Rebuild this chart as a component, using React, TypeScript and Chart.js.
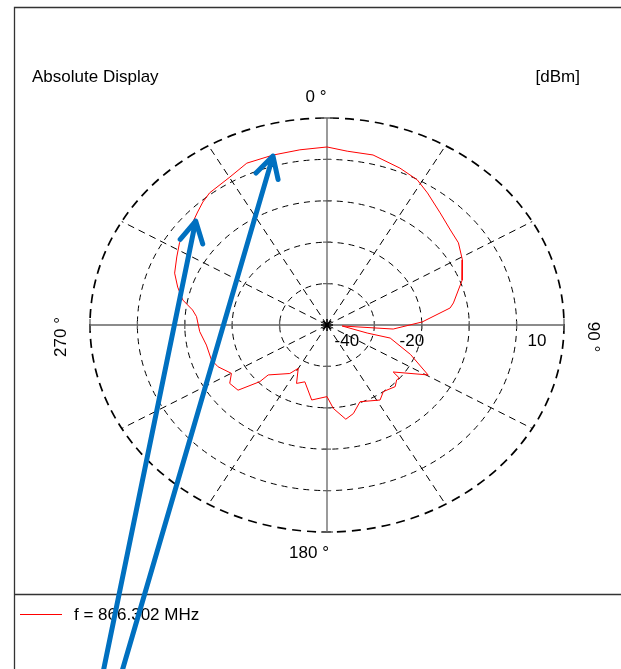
import React, { useEffect, useRef } from "react";
import { Chart, registerables } from "chart.js";

Chart.register(...registerables);

// ---- data (angle in degrees clockwise from 0°, level in dBm) ----
const angles = [
  0, 5.8, 13.3, 22.1, 28.5, 33.6, 41.4, 48.6, 54.4, 61.2, 69.2, 78.7, 81.0, 87.9,
  94.0, 94.3, 102.9, 103.3, 112.0, 119.5, 129.1, 130.0, 132.1, 136.0, 143.5, 148.3,
  159.4, 165.4, 170.1, 176.2, 180.0, 190.1, 198.8, 204.5, 210.1, 213.8, 225.8, 226.0,
  230.0, 235.5, 239.9, 246.3, 250.9, 259.2, 266.6, 274.2, 277.3, 281.2, 286.2, 291.3,
  297.4, 302.5, 304.9, 311.0, 315.0, 318.6, 322.2, 330.2, 336.6, 344.5, 352.3, 360,
];
const levels = [
  -7.0, -7.8, -7.8, -9.1, -10.1, -11.7, -13.9, -15.3, -15.9, -17.4, -19.5, -22.8, -23.7, -29.9,
  -36.0, -46.8, -41.3, -36.3, -31.0, -25.5, -32.0, -30.1, -30.2, -29.3, -30.0, -28.7,
  -30.2, -27.9, -26.9, -29.8, -32.7, -31.6, -35.5, -34.5, -37.9, -35.9, -32.7, -30.3,
  -25.5, -25.1, -26.7, -24.9, -24.2, -24.1, -23.1, -22.4, -21.4, -19.0, -17.2, -15.5,
  -14.3, -13.1, -12.9, -12.4, -11.4, -10.4, -9.6, -8.8, -7.4, -7.4, -7.3, -7.0,
];

const centerLevel = -50;
const ringStep = 10;
const ringLevels = [-40, -30, -20, -10, 0];
const tickLabels = ["-40", "-20", "10"];
const spokeAngles = [30, 60, 120, 150, 210, 240, 300, 330];
const axisLabels = ["0 °", "90 °", "180 °", "270 °"];
const titleText = "Absolute Display";
const unitText = "[dBm]";
const seriesName = "f = 866.302 MHz";

// annotation arrows (in chart units: x right, y up, 1 unit = one ring)
const arrowFromX = [-4.71, -4.31];
const arrowFromY = [-8.31, -8.31];
const arrowToX = [-2.77, -1.14];
const arrowToY = [2.51, 4.08];

const FONT = '17px "Liberation Sans", Arial, sans-serif';

function toXY(angleDeg: number, level: number) {
  const r = (level - centerLevel) / ringStep;
  const a = (angleDeg * Math.PI) / 180;
  return { x: r * Math.sin(a), y: r * Math.cos(a) };
}

const polarPlugin = {
  id: "polarGrid",
  beforeDatasetsDraw(chart: any) {
    const ctx = chart.ctx;
    const xs = chart.scales.x;
    const ys = chart.scales.y;
    const cx = xs.getPixelForValue(0);
    const cy = ys.getPixelForValue(0);
    const ux = xs.getPixelForValue(1) - cx;
    const uy = cy - ys.getPixelForValue(1);
    const n = ringLevels.length;
    ctx.save();
    ringLevels.forEach((lv, i) => {
      const r = (lv - centerLevel) / ringStep;
      const outer = i === n - 1;
      ctx.beginPath();
      ctx.setLineDash(outer ? [9, 6] : [6, 5]);
      ctx.lineWidth = outer ? 1.7 : 1;
      ctx.strokeStyle = "#000";
      ctx.ellipse(cx, cy, r * ux, r * uy, 0, 0, Math.PI * 2);
      ctx.stroke();
    });
    const R = (ringLevels[n - 1] - centerLevel) / ringStep;
    ctx.setLineDash([7, 5]);
    ctx.lineWidth = 1;
    spokeAngles.forEach((ang) => {
      const a = (ang * Math.PI) / 180;
      ctx.beginPath();
      ctx.moveTo(cx, cy);
      ctx.lineTo(cx + R * ux * Math.sin(a), cy - R * uy * Math.cos(a));
      ctx.stroke();
    });
    ctx.setLineDash([]);
    ctx.strokeStyle = "#666";
    ctx.lineWidth = 1.3;
    ctx.beginPath();
    ctx.moveTo(cx - R * ux, cy);
    ctx.lineTo(cx + R * ux, cy);
    ctx.moveTo(cx, cy - R * uy);
    ctx.lineTo(cx, cy + R * uy);
    ctx.stroke();
    ctx.beginPath();
    ringLevels.forEach((lv, i) => {
      const r = (lv - centerLevel) / ringStep;
      const t = i === n - 1 ? 6 : 4;
      ctx.moveTo(cx + r * ux, cy - t);
      ctx.lineTo(cx + r * ux, cy + t);
      ctx.moveTo(cx - r * ux, cy - t);
      ctx.lineTo(cx - r * ux, cy + t);
      ctx.moveTo(cx - t, cy - r * uy);
      ctx.lineTo(cx + t, cy - r * uy);
      ctx.moveTo(cx - t, cy + r * uy);
      ctx.lineTo(cx + t, cy + r * uy);
    });
    ctx.stroke();
    ctx.restore();
  },
  afterDraw(chart: any) {
    const ctx = chart.ctx;
    const xs = chart.scales.x;
    const ys = chart.scales.y;
    const cx = xs.getPixelForValue(0);
    const cy = ys.getPixelForValue(0);
    const ux = xs.getPixelForValue(1) - cx;
    const W = chart.width;
    const H = chart.height;
    ctx.save();
    ctx.fillStyle = "#000";
    ctx.font = FONT;
    ctx.textBaseline = "middle";
    ctx.strokeStyle = "#333";
    ctx.lineWidth = 1.3;
    ctx.beginPath();
    ctx.moveTo(14.5, H);
    ctx.lineTo(14.5, 7.5);
    ctx.lineTo(W, 7.5);
    ctx.moveTo(14.5, 594.5);
    ctx.lineTo(W, 594.5);
    ctx.stroke();
    ctx.textAlign = "left";
    ctx.fillText(titleText, 32, 77);
    ctx.textAlign = "right";
    ctx.fillText(unitText, 580, 77);
    const tickPos = [0.42, 1.79, 4.43];
    ctx.textAlign = "center";
    tickLabels.forEach((t, i) => {
      ctx.fillText(t, cx + tickPos[i] * ux, cy + 16);
    });
    ctx.fillText(axisLabels[0], cx - 11, 97);
    ctx.fillText(axisLabels[2], cx - 18, 553);
    ctx.save();
    ctx.translate(61, cy + 12);
    ctx.rotate(-Math.PI / 2);
    ctx.fillText(axisLabels[3], 0, 0);
    ctx.restore();
    ctx.save();
    ctx.translate(593, cy + 12);
    ctx.rotate(Math.PI / 2);
    ctx.fillText(axisLabels[1], 0, 0);
    ctx.restore();
    ctx.strokeStyle = "#ff0000";
    ctx.lineWidth = 1;
    ctx.beginPath();
    ctx.moveTo(20, 614.5);
    ctx.lineTo(62, 614.5);
    ctx.stroke();
    ctx.textAlign = "left";
    ctx.fillText(seriesName, 74, 615);
    ctx.strokeStyle = "#0070C0";
    ctx.lineWidth = 5;
    ctx.lineCap = "round";
    ctx.lineJoin = "round";
    arrowFromX.forEach((_, i) => {
      const x0 = xs.getPixelForValue(arrowFromX[i]);
      const y0 = ys.getPixelForValue(arrowFromY[i]);
      const x1 = xs.getPixelForValue(arrowToX[i]);
      const y1 = ys.getPixelForValue(arrowToY[i]);
      const ang = Math.atan2(y1 - y0, x1 - x0);
      const L = 24;
      const spread = 0.5;
      ctx.beginPath();
      ctx.moveTo(x0, y0);
      ctx.lineTo(x1, y1);
      ctx.moveTo(x1 - L * Math.cos(ang - spread), y1 - L * Math.sin(ang - spread));
      ctx.lineTo(x1, y1);
      ctx.lineTo(x1 - L * Math.cos(ang + spread), y1 - L * Math.sin(ang + spread));
      ctx.stroke();
    });
    ctx.restore();
  },
};

export default function App() {
  const ref = useRef<HTMLCanvasElement | null>(null);
  useEffect(() => {
    if (!ref.current) return;
    const pts = angles.map((a, i) => toXY(a, levels[i]));
    const chart = new Chart(ref.current, {
      type: "scatter",
      data: {
        datasets: [
          {
            label: seriesName,
            data: pts,
            showLine: true,
            borderColor: "#ff0000",
            borderWidth: 1,
            pointRadius: 0,
            tension: 0,
          },
          {
            label: "center",
            data: [{ x: 0, y: 0 }],
            pointStyle: "star",
            pointRadius: 6,
            borderColor: "#000",
            backgroundColor: "#000",
            borderWidth: 1.5,
          },
        ],
      },
      options: {
        responsive: false,
        animation: false,
        layout: { padding: { left: 90, right: 57, top: 118, bottom: 137 } },
        plugins: { legend: { display: false }, tooltip: { enabled: false }, title: { display: false } },
        scales: {
          x: { type: "linear", min: -5, max: 5, display: false },
          y: { type: "linear", min: -5, max: 5, display: false },
        },
      },
      plugins: [polarPlugin],
    });
    return () => chart.destroy();
  }, []);
  return (
    <div style={{ position: "absolute", left: 0, top: 0, width: 621, height: 669, background: "#fff" }}>
      <canvas ref={ref} width={621} height={669} style={{ display: "block" }} />
    </div>
  );
}
